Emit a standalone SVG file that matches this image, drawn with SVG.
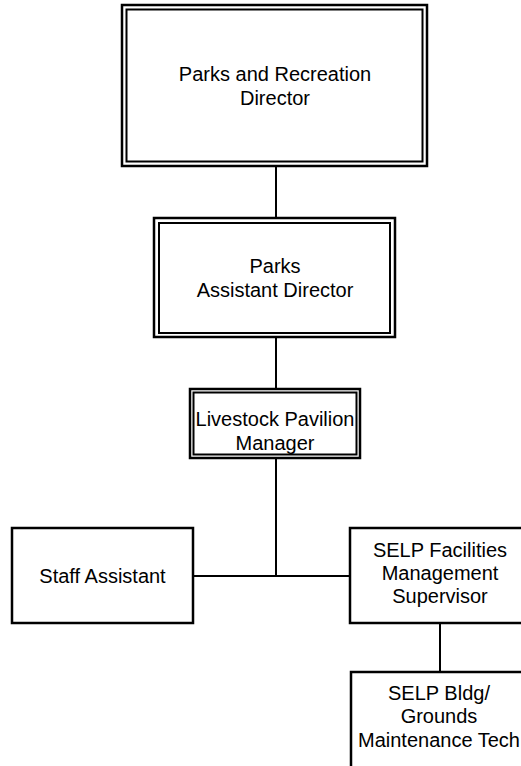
<svg xmlns="http://www.w3.org/2000/svg" width="521" height="766" viewBox="0 0 521 766">
  <style>
    .box { fill: #ffffff; stroke: #000000; stroke-width: 2.5; }
    .inner { fill: none; stroke: #000000; stroke-width: 2; }
    .link { fill: none; stroke: #000000; stroke-width: 2; }
    text { font-family: "Liberation Sans", Arial, sans-serif; font-size: 20px; fill: #000000; text-anchor: middle; }
  </style>
  <rect width="521" height="766" fill="#ffffff"/>

  <!-- connectors -->
  <g id="connectors">
    <line class="link" x1="276" y1="166" x2="276" y2="218"/>
    <line class="link" x1="276" y1="337" x2="276" y2="389"/>
    <line class="link" x1="276" y1="458" x2="276" y2="576"/>
    <line class="link" x1="193" y1="576" x2="350" y2="576"/>
    <line class="link" x1="440" y1="623" x2="440" y2="672"/>
  </g>

  <g id="parks-recreation-director">
    <rect class="box" x="122" y="5" width="305" height="161"/>
    <rect class="inner" x="126.5" y="9.5" width="296" height="152"/>
    <text x="275" y="81">Parks and Recreation</text>
    <text x="275" y="105">Director</text>
  </g>

  <g id="parks-assistant-director">
    <rect class="box" x="154" y="218" width="241" height="119"/>
    <rect class="inner" x="159" y="223" width="231" height="110"/>
    <text x="275" y="273">Parks</text>
    <text x="275" y="297">Assistant Director</text>
  </g>

  <g id="livestock-pavilion-manager">
    <rect class="box" x="190" y="389" width="170" height="69"/>
    <rect class="inner" x="193.5" y="392.5" width="163" height="62"/>
    <text x="275" y="426">Livestock Pavilion</text>
    <text x="275" y="450">Manager</text>
  </g>

  <g id="staff-assistant">
    <rect class="box" x="12" y="528" width="181" height="95"/>
    <text x="102.5" y="583">Staff Assistant</text>
  </g>

  <g id="selp-facilities-supervisor">
    <rect class="box" x="350" y="528" width="180" height="95"/>
    <text x="440" y="557">SELP Facilities</text>
    <text x="440" y="580">Management</text>
    <text x="440" y="603">Supervisor</text>
  </g>

  <g id="selp-maintenance-tech">
    <rect class="box" x="351" y="672" width="180" height="110"/>
    <text x="439" y="700">SELP Bldg/</text>
    <text x="439" y="723">Grounds</text>
    <text x="439" y="747">Maintenance Tech</text>
  </g>
</svg>
